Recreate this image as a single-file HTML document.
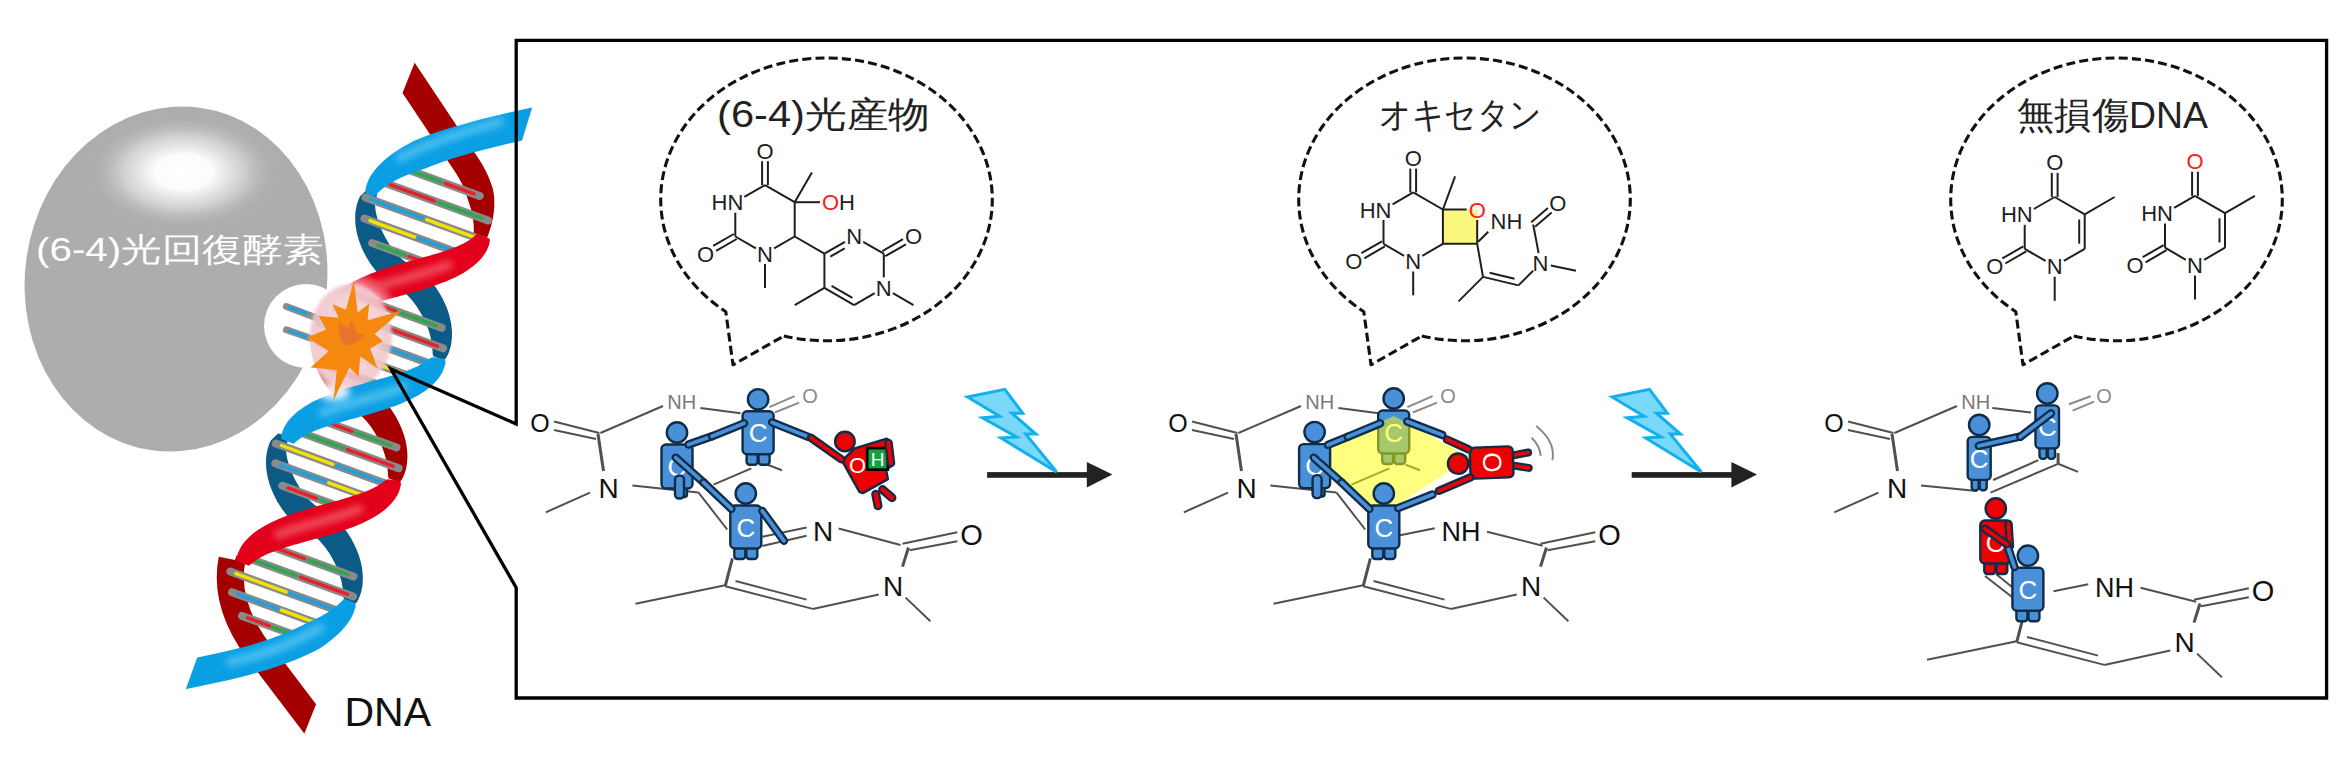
<!DOCTYPE html>
<html><head><meta charset="utf-8"><style>
html,body{margin:0;padding:0;background:#fff;width:2350px;height:776px;overflow:hidden}
svg{display:block}
text{font-family:"Liberation Sans",sans-serif}
</style></head><body>
<svg width="2350" height="776" viewBox="0 0 2350 776">
<defs><radialGradient id="hl" cx="0.5" cy="0.5" r="0.5"><stop offset="0" stop-color="#ffffff"/><stop offset="0.3" stop-color="#fcfcfc"/><stop offset="0.62" stop-color="#dedede" stop-opacity="0.75"/><stop offset="1" stop-color="#adadad" stop-opacity="0"/></radialGradient></defs>
<ellipse cx="176" cy="279" rx="151" ry="173" fill="#adadad" transform="rotate(8 176 279)"/>
<ellipse cx="183" cy="172" rx="96" ry="58" fill="url(#hl)"/>
<circle cx="306" cy="326" r="42" fill="#ffffff"/>
<text x="36" y="261" font-size="33" fill="#ffffff" textLength="287" lengthAdjust="spacingAndGlyphs" font-family="Liberation Sans, sans-serif">(6-4)光回復酵素</text>
<defs><clipPath id="cbt"><path d="M1116.8 -1803.9 L-53.2 2021.1 L-1965.7 1436.1 L-795.7 -2388.9 Z"/></clipPath><clipPath id="crt"><path d="M-343.2 1954.3 L1144.4 -1758.9 L3000.9 -1015.1 L1513.4 2698.0 Z"/></clipPath><clipPath id="cbb"><path d="M873.4 -1224.1 L-479.4 2540.1 L1402.8 3216.5 L2755.5 -547.8 Z"/></clipPath><clipPath id="crb"><path d="M-438.2 2590.0 L1047.4 -1124.0 L-809.6 -1866.7 L-2295.1 1847.2 Z"/></clipPath><radialGradient id="mg" cx="0.5" cy="0.5" r="0.5"><stop offset="0" stop-color="#000"/><stop offset="0.6" stop-color="#000"/><stop offset="1" stop-color="#fff"/></radialGradient><mask id="gm" maskUnits="userSpaceOnUse" x="0" y="0" width="2350" height="776"><rect x="0" y="0" width="2350" height="776" fill="#fff"/><ellipse cx="349" cy="337" rx="58" ry="68" fill="url(#mg)"/></mask><filter id="blur15" x="-50%" y="-50%" width="200%" height="200%"><feGaussianBlur stdDeviation="1.6"/></filter><filter id="blur5" x="-50%" y="-50%" width="200%" height="200%"><feGaussianBlur stdDeviation="5"/></filter><filter id="blur3" x="-50%" y="-50%" width="200%" height="200%"><feGaussianBlur stdDeviation="3.5"/></filter></defs>
<path d="M378.8 57.5 L454.8 171.5 L455.9 173.1 L456.9 174.8 L457.9 176.5 L459.0 178.2 L459.9 179.9 L460.9 181.7 L461.8 183.5 L462.6 185.3 L463.5 187.1 L464.2 188.9 L465.0 190.8 L465.6 192.7 L466.3 194.6 L466.9 196.6 L467.5 198.6 L468.2 200.6 L468.9 202.6 L469.6 204.7 L470.3 206.9 L471.0 209.1 L471.5 211.4 L472.1 213.8 L472.6 216.3 L473.0 218.9 L473.3 221.5 L473.6 224.3 L473.8 227.2 L473.8 230.2 L473.8 233.3 L473.7 236.6 L486.3 239.4 L487.7 236.2 L488.9 232.9 L490.0 229.6 L491.0 226.3 L491.8 223.1 L492.6 219.8 L493.2 216.6 L493.6 213.5 L494.0 210.3 L494.2 207.2 L494.3 204.1 L494.3 201.0 L494.2 198.0 L493.9 195.1 L493.5 192.2 L492.9 189.3 L492.1 186.6 L491.2 183.9 L490.2 181.3 L489.3 178.8 L488.2 176.3 L487.1 173.9 L486.0 171.5 L484.8 169.2 L483.6 166.9 L482.4 164.7 L481.1 162.6 L479.8 160.5 L478.5 158.5 L477.2 156.5 L401.2 42.5 Z" fill="#a50000" clip-path="url(#crt)"/>
<path d="M232 559.4 C225 595, 240 630, 267 662 L330 745" fill="none" stroke="#a50000" stroke-width="27" clip-path="url(#crb)"/>
<path d="M377.2 191.7 L367.3 189.4 L360.2 196.1 L359.1 198.2 L358.2 200.5 L357.4 202.8 L356.7 205.1 L356.2 207.5 L355.7 210.0 L355.4 212.5 L355.2 215.1 L355.2 217.7 L355.2 220.3 L355.4 223.0 L355.6 225.7 L356.0 228.5 L356.5 231.2 L357.1 234.0 L357.9 236.9 L358.7 239.7 L359.7 242.6 L360.8 245.6 L362.0 248.5 L363.4 251.5 L365.0 254.6 L366.7 257.7 L368.7 260.9 L370.8 264.2 L373.3 267.6 L376.1 271.2 L379.6 275.0 L384.0 279.3 L390.7 284.5 L402.3 290.8 L405.6 293.6 L408.3 296.2 L410.7 298.7 L412.8 301.2 L414.6 303.7 L416.4 306.0 L417.9 308.4 L419.4 310.7 L420.7 312.9 L421.9 315.1 L423.1 317.3 L424.1 319.4 L425.1 321.4 L426.0 323.5 L426.8 325.5 L427.6 327.4 L428.3 329.4 L428.9 331.2 L429.5 333.1 L430.0 334.9 L430.5 336.7 L430.9 338.5 L431.2 340.3 L431.5 342.0 L431.8 343.7 L432.0 345.5 L432.2 347.2 L432.3 348.9 L432.5 350.6 L432.6 352.4 L432.7 354.2 L433.4 356.4 L443.8 359.9 L445.7 358.3 L447.0 356.3 L448.1 354.2 L449.0 351.9 L449.8 349.6 L450.5 347.3 L451.0 344.9 L451.4 342.4 L451.7 339.9 L451.9 337.3 L452.0 334.7 L452.0 332.1 L451.8 329.4 L451.5 326.7 L451.2 323.9 L450.7 321.2 L450.0 318.4 L449.3 315.5 L448.5 312.7 L447.5 309.8 L446.4 306.8 L445.1 303.9 L443.7 300.9 L442.2 297.8 L440.4 294.7 L438.5 291.5 L436.3 288.2 L433.9 284.8 L431.0 281.2 L427.6 277.4 L423.2 273.1 L416.5 267.9 L404.9 261.6 L401.6 258.8 L398.8 256.2 L396.5 253.7 L394.4 251.2 L392.5 248.7 L390.8 246.4 L389.2 244.0 L387.8 241.7 L386.5 239.5 L385.2 237.3 L384.1 235.1 L383.0 233.0 L382.1 231.0 L381.2 228.9 L380.3 226.9 L379.6 225.0 L378.9 223.0 L378.3 221.2 L377.7 219.3 L377.2 217.5 L376.7 215.7 L376.3 213.9 L375.9 212.1 L375.6 210.4 L375.4 208.7 L375.2 207.0 L375.0 205.2 L374.8 203.5 L374.7 201.8 L374.6 200.0 L368.6 202.9 L375.9 202.6 Z" fill="#0b5b86"/>
<path d="M288.0 435.8 L278.1 433.5 L271.0 440.2 L269.9 442.4 L269.0 444.6 L268.2 446.9 L267.5 449.3 L267.0 451.7 L266.6 454.2 L266.2 456.7 L266.1 459.2 L266.0 461.8 L266.0 464.5 L266.2 467.2 L266.4 469.9 L266.8 472.6 L267.3 475.4 L267.9 478.2 L268.7 481.0 L269.5 483.9 L270.5 486.8 L271.6 489.7 L272.9 492.7 L274.3 495.7 L275.8 498.8 L277.5 501.9 L279.5 505.1 L281.6 508.4 L284.1 511.8 L287.0 515.4 L290.4 519.2 L294.8 523.4 L301.5 528.6 L313.1 535.0 L316.4 537.7 L319.1 540.3 L321.5 542.9 L323.6 545.4 L325.5 547.8 L327.2 550.2 L328.8 552.5 L330.2 554.8 L331.5 557.0 L332.8 559.2 L333.9 561.4 L335.0 563.5 L335.9 565.6 L336.8 567.6 L337.7 569.6 L338.4 571.6 L339.1 573.5 L339.7 575.4 L340.3 577.2 L340.8 579.1 L341.3 580.9 L341.7 582.6 L342.0 584.4 L342.3 586.1 L342.6 587.9 L342.8 589.6 L343.0 591.3 L343.2 593.0 L343.3 594.8 L343.4 596.5 L343.6 598.3 L344.2 600.5 L354.6 604.1 L356.5 602.5 L357.8 600.4 L358.9 598.3 L359.8 596.1 L360.6 593.8 L361.3 591.4 L361.8 589.0 L362.3 586.5 L362.6 584.0 L362.7 581.4 L362.8 578.8 L362.8 576.2 L362.6 573.5 L362.4 570.8 L362.0 568.1 L361.5 565.3 L360.9 562.5 L360.1 559.7 L359.3 556.8 L358.3 553.9 L357.2 551.0 L355.9 548.0 L354.5 545.0 L353.0 541.9 L351.3 538.8 L349.3 535.6 L347.2 532.3 L344.7 528.9 L341.8 525.3 L338.4 521.5 L334.0 517.3 L327.3 512.1 L315.7 505.7 L312.4 503.0 L309.7 500.4 L307.3 497.8 L305.2 495.3 L303.3 492.9 L301.6 490.5 L300.1 488.2 L298.6 485.9 L297.3 483.6 L296.0 481.4 L294.9 479.3 L293.9 477.2 L292.9 475.1 L292.0 473.1 L291.2 471.1 L290.4 469.1 L289.7 467.2 L289.1 465.3 L288.5 463.4 L288.0 461.6 L287.5 459.8 L287.1 458.0 L286.8 456.3 L286.5 454.5 L286.2 452.8 L286.0 451.1 L285.8 449.4 L285.7 447.7 L285.5 445.9 L285.4 444.2 L279.4 447.0 L286.8 446.8 Z" fill="#0b5b86"/>
<path d="M481.2 241.2 L481.6 241.4 L485.6 231.1 L485.2 231.0 Z" fill="#a50000" mask="url(#gm)"/>
<path d="M332.6 313.8 L322.7 311.4 L315.6 318.2 L314.5 320.3 L313.6 322.5 L312.8 324.8 L312.1 327.2 L311.6 329.6 L311.1 332.1 L310.8 334.6 L310.6 337.2 L310.6 339.8 L310.6 342.4 L310.8 345.1 L311.0 347.8 L311.4 350.5 L311.9 353.3 L312.5 356.1 L313.3 358.9 L314.1 361.8 L315.1 364.7 L316.2 367.6 L317.5 370.6 L318.8 373.6 L320.4 376.7 L322.1 379.8 L324.1 383.0 L326.2 386.3 L328.7 389.7 L331.6 393.3 L335.0 397.1 L339.4 401.3 L346.1 406.6 L357.7 412.9 L361.0 415.6 L363.7 418.2 L366.1 420.8 L368.2 423.3 L370.1 425.7 L371.8 428.1 L373.3 430.5 L374.8 432.7 L376.1 435.0 L377.4 437.2 L378.5 439.3 L379.5 441.4 L380.5 443.5 L381.4 445.5 L382.2 447.5 L383.0 449.5 L383.7 451.4 L384.3 453.3 L384.9 455.2 L385.4 457.0 L385.9 458.8 L386.3 460.6 L386.6 462.3 L386.9 464.1 L387.2 465.8 L387.4 467.5 L387.6 469.2 L387.7 471.0 L387.9 472.7 L388.0 474.5 L388.1 476.3 L388.8 478.5 L399.2 482.0 L401.1 480.4 L402.4 478.4 L403.5 476.2 L404.4 474.0 L405.2 471.7 L405.9 469.3 L406.4 466.9 L406.8 464.5 L407.1 461.9 L407.3 459.4 L407.4 456.8 L407.4 454.1 L407.2 451.5 L406.9 448.8 L406.6 446.0 L406.1 443.2 L405.5 440.4 L404.7 437.6 L403.9 434.8 L402.9 431.9 L401.8 428.9 L400.5 425.9 L399.1 422.9 L397.6 419.9 L395.9 416.7 L393.9 413.5 L391.8 410.2 L389.3 406.8 L386.4 403.3 L383.0 399.4 L378.6 395.2 L371.9 390.0 L360.3 383.6 L357.0 380.9 L354.3 378.3 L351.9 375.7 L349.8 373.2 L347.9 370.8 L346.2 368.4 L344.6 366.1 L343.2 363.8 L341.9 361.6 L340.6 359.4 L339.5 357.2 L338.4 355.1 L337.5 353.0 L336.6 351.0 L335.7 349.0 L335.0 347.0 L334.3 345.1 L333.7 343.2 L333.1 341.4 L332.6 339.5 L332.1 337.7 L331.7 336.0 L331.4 334.2 L331.1 332.5 L330.8 330.7 L330.6 329.0 L330.4 327.3 L330.2 325.6 L330.1 323.8 L330.0 322.1 L324.0 325.0 L331.3 324.7 Z" fill="#a50000" mask="url(#gm)"/>
<path d="M244.7 558.2 L236.7 555.3 L232.9 565.6 L240.9 568.5 Z" fill="#a50000" mask="url(#gm)"/>
<line x1="406.9" y1="169.3" x2="479.7" y2="195.9" stroke="#8a8a8a" stroke-width="8" stroke-linecap="round"/>
<line x1="412.5" y1="171.3" x2="441.4" y2="181.9" stroke="#2aa84a" stroke-width="3.4" stroke-linecap="round"/>
<line x1="445.2" y1="183.3" x2="474.1" y2="193.8" stroke="#e8202a" stroke-width="3.4" stroke-linecap="round"/>
<line x1="384.4" y1="182.7" x2="488.0" y2="220.5" stroke="#8a8a8a" stroke-width="8" stroke-linecap="round"/>
<line x1="390.0" y1="184.7" x2="434.3" y2="200.9" stroke="#e8202a" stroke-width="3.4" stroke-linecap="round"/>
<line x1="438.1" y1="202.3" x2="482.3" y2="218.4" stroke="#2aa84a" stroke-width="3.4" stroke-linecap="round"/>
<line x1="365.5" y1="197.4" x2="483.9" y2="240.6" stroke="#8a8a8a" stroke-width="8" stroke-linecap="round"/>
<line x1="371.1" y1="199.4" x2="422.8" y2="218.3" stroke="#1ea0e0" stroke-width="3.4" stroke-linecap="round"/>
<line x1="426.6" y1="219.7" x2="478.2" y2="238.6" stroke="#f0e400" stroke-width="3.4" stroke-linecap="round"/>
<line x1="364.4" y1="218.6" x2="468.2" y2="256.5" stroke="#8a8a8a" stroke-width="8" stroke-linecap="round"/>
<line x1="370.0" y1="220.6" x2="414.4" y2="236.8" stroke="#f0e400" stroke-width="3.4" stroke-linecap="round"/>
<line x1="418.2" y1="238.2" x2="462.6" y2="254.4" stroke="#1ea0e0" stroke-width="3.4" stroke-linecap="round"/>
<line x1="372.1" y1="243.0" x2="442.0" y2="268.5" stroke="#8a8a8a" stroke-width="8" stroke-linecap="round"/>
<line x1="377.8" y1="245.1" x2="405.2" y2="255.1" stroke="#2aa84a" stroke-width="3.4" stroke-linecap="round"/>
<line x1="409.0" y1="256.5" x2="436.4" y2="266.5" stroke="#e8202a" stroke-width="3.4" stroke-linecap="round"/>
<line x1="353.4" y1="295.5" x2="441.7" y2="327.8" stroke="#8a8a8a" stroke-width="8" stroke-linecap="round"/>
<line x1="359.0" y1="297.6" x2="395.7" y2="311.0" stroke="#e8202a" stroke-width="3.4" stroke-linecap="round"/>
<line x1="399.4" y1="312.4" x2="436.1" y2="325.7" stroke="#2aa84a" stroke-width="3.4" stroke-linecap="round"/>
<line x1="335.6" y1="309.1" x2="443.0" y2="348.3" stroke="#8a8a8a" stroke-width="8" stroke-linecap="round"/>
<line x1="341.3" y1="311.1" x2="387.4" y2="328.0" stroke="#2aa84a" stroke-width="3.4" stroke-linecap="round"/>
<line x1="391.2" y1="329.4" x2="437.3" y2="346.2" stroke="#e8202a" stroke-width="3.4" stroke-linecap="round"/>
<line x1="320.0" y1="323.4" x2="437.2" y2="366.2" stroke="#8a8a8a" stroke-width="8" stroke-linecap="round"/>
<line x1="325.7" y1="325.4" x2="376.7" y2="344.1" stroke="#f0e400" stroke-width="3.4" stroke-linecap="round"/>
<line x1="380.5" y1="345.5" x2="431.5" y2="364.1" stroke="#1ea0e0" stroke-width="3.4" stroke-linecap="round"/>
<line x1="320.2" y1="343.4" x2="420.9" y2="380.2" stroke="#8a8a8a" stroke-width="8" stroke-linecap="round"/>
<line x1="325.8" y1="345.5" x2="368.7" y2="361.1" stroke="#1ea0e0" stroke-width="3.4" stroke-linecap="round"/>
<line x1="372.4" y1="362.5" x2="415.2" y2="378.2" stroke="#f0e400" stroke-width="3.4" stroke-linecap="round"/>
<line x1="328.2" y1="366.4" x2="395.9" y2="391.1" stroke="#8a8a8a" stroke-width="8" stroke-linecap="round"/>
<line x1="333.8" y1="368.4" x2="360.2" y2="378.1" stroke="#e8202a" stroke-width="3.4" stroke-linecap="round"/>
<line x1="363.9" y1="379.4" x2="390.3" y2="389.1" stroke="#2aa84a" stroke-width="3.4" stroke-linecap="round"/>
<line x1="311.2" y1="416.4" x2="396.5" y2="447.5" stroke="#8a8a8a" stroke-width="8" stroke-linecap="round"/>
<line x1="316.9" y1="418.4" x2="352.0" y2="431.3" stroke="#e8202a" stroke-width="3.4" stroke-linecap="round"/>
<line x1="355.8" y1="432.6" x2="390.9" y2="445.5" stroke="#2aa84a" stroke-width="3.4" stroke-linecap="round"/>
<line x1="292.5" y1="429.5" x2="398.6" y2="468.3" stroke="#8a8a8a" stroke-width="8" stroke-linecap="round"/>
<line x1="298.1" y1="431.6" x2="343.6" y2="448.2" stroke="#2aa84a" stroke-width="3.4" stroke-linecap="round"/>
<line x1="347.4" y1="449.6" x2="393.0" y2="466.2" stroke="#e8202a" stroke-width="3.4" stroke-linecap="round"/>
<line x1="275.8" y1="443.5" x2="393.7" y2="486.5" stroke="#8a8a8a" stroke-width="8" stroke-linecap="round"/>
<line x1="281.5" y1="445.5" x2="332.9" y2="464.3" stroke="#f0e400" stroke-width="3.4" stroke-linecap="round"/>
<line x1="336.7" y1="465.7" x2="388.1" y2="484.5" stroke="#1ea0e0" stroke-width="3.4" stroke-linecap="round"/>
<line x1="275.3" y1="463.3" x2="378.5" y2="501.0" stroke="#8a8a8a" stroke-width="8" stroke-linecap="round"/>
<line x1="280.9" y1="465.3" x2="325.0" y2="481.4" stroke="#1ea0e0" stroke-width="3.4" stroke-linecap="round"/>
<line x1="328.7" y1="482.8" x2="372.9" y2="498.9" stroke="#f0e400" stroke-width="3.4" stroke-linecap="round"/>
<line x1="282.3" y1="485.8" x2="354.3" y2="512.1" stroke="#8a8a8a" stroke-width="8" stroke-linecap="round"/>
<line x1="288.0" y1="487.9" x2="316.4" y2="498.3" stroke="#e8202a" stroke-width="3.4" stroke-linecap="round"/>
<line x1="320.2" y1="499.7" x2="348.7" y2="510.1" stroke="#2aa84a" stroke-width="3.4" stroke-linecap="round"/>
<line x1="259.6" y1="542.3" x2="353.4" y2="576.5" stroke="#8a8a8a" stroke-width="8" stroke-linecap="round"/>
<line x1="265.3" y1="544.3" x2="304.6" y2="558.7" stroke="#e8202a" stroke-width="3.4" stroke-linecap="round"/>
<line x1="308.4" y1="560.1" x2="347.8" y2="574.5" stroke="#2aa84a" stroke-width="3.4" stroke-linecap="round"/>
<line x1="244.0" y1="556.6" x2="353.1" y2="596.4" stroke="#8a8a8a" stroke-width="8" stroke-linecap="round"/>
<line x1="249.6" y1="558.6" x2="296.7" y2="575.8" stroke="#2aa84a" stroke-width="3.4" stroke-linecap="round"/>
<line x1="300.4" y1="577.2" x2="347.5" y2="594.4" stroke="#e8202a" stroke-width="3.4" stroke-linecap="round"/>
<line x1="230.3" y1="571.6" x2="345.4" y2="613.6" stroke="#8a8a8a" stroke-width="8" stroke-linecap="round"/>
<line x1="235.9" y1="573.6" x2="286.0" y2="591.9" stroke="#f0e400" stroke-width="3.4" stroke-linecap="round"/>
<line x1="289.7" y1="593.3" x2="339.7" y2="611.6" stroke="#1ea0e0" stroke-width="3.4" stroke-linecap="round"/>
<line x1="232.0" y1="592.2" x2="327.0" y2="626.9" stroke="#8a8a8a" stroke-width="8" stroke-linecap="round"/>
<line x1="237.7" y1="594.3" x2="277.6" y2="608.9" stroke="#1ea0e0" stroke-width="3.4" stroke-linecap="round"/>
<line x1="281.4" y1="610.2" x2="321.4" y2="624.8" stroke="#f0e400" stroke-width="3.4" stroke-linecap="round"/>
<line x1="242.0" y1="615.9" x2="300.7" y2="637.3" stroke="#8a8a8a" stroke-width="8" stroke-linecap="round"/>
<line x1="247.6" y1="617.9" x2="269.5" y2="625.9" stroke="#e8202a" stroke-width="3.4" stroke-linecap="round"/>
<line x1="273.2" y1="627.3" x2="295.0" y2="635.2" stroke="#2aa84a" stroke-width="3.4" stroke-linecap="round"/>
<line x1="286.4" y1="306.5" x2="330" y2="323" stroke="#8c8c8c" stroke-width="7" stroke-linecap="round"/>
<line x1="289.4" y1="307.5" x2="306.4" y2="313.5" stroke="#1ea0e0" stroke-width="3" stroke-linecap="round"/>
<line x1="286.4" y1="329.8" x2="330" y2="345" stroke="#8c8c8c" stroke-width="7" stroke-linecap="round"/>
<line x1="289.4" y1="330.8" x2="306.4" y2="336.8" stroke="#1ea0e0" stroke-width="3" stroke-linecap="round"/>
<path d="M477.6 233.8 L475.9 235.0 L474.7 236.1 L473.5 237.1 L472.2 238.1 L470.9 239.0 L469.6 239.9 L468.2 240.8 L466.7 241.7 L465.2 242.6 L463.5 243.4 L461.8 244.3 L459.9 245.2 L458.0 246.0 L455.9 246.9 L453.7 247.8 L451.5 248.6 L449.2 249.5 L446.7 250.3 L444.2 251.2 L441.6 252.0 L438.9 252.9 L436.1 253.7 L433.2 254.5 L430.3 255.4 L427.3 256.2 L424.3 257.1 L421.2 257.9 L418.1 258.8 L414.9 259.7 L411.7 260.6 L408.4 261.5 L405.2 262.4 L401.9 263.3 L398.6 264.3 L395.4 265.2 L392.1 266.2 L388.8 267.3 L385.5 268.3 L382.3 269.4 L379.1 270.5 L375.9 271.7 L372.8 272.9 L369.7 274.1 L366.6 275.4 L363.6 276.7 L360.7 278.1 L357.8 279.6 L355.0 281.1 L352.3 282.6 L349.6 284.2 L347.1 285.9 L344.6 287.7 L342.2 289.5 L340.0 291.4 L337.8 293.3 L335.8 295.4 L334.0 297.5 L332.2 299.7 L330.7 302.0 L329.3 304.3 L328.1 306.7 L327.1 309.2 L326.3 311.7 L325.8 314.3 L326.0 316.8 L338.0 321.7 L339.7 320.4 L340.9 319.4 L342.2 318.4 L343.4 317.4 L344.7 316.5 L346.0 315.6 L347.4 314.7 L348.9 313.8 L350.5 312.9 L352.1 312.0 L353.9 311.2 L355.7 310.3 L357.7 309.4 L359.7 308.6 L361.9 307.7 L364.1 306.9 L366.5 306.0 L368.9 305.2 L371.4 304.3 L374.1 303.5 L376.8 302.6 L379.5 301.8 L382.4 301.0 L385.3 300.1 L388.3 299.3 L391.3 298.4 L394.4 297.6 L397.6 296.7 L400.7 295.8 L403.9 294.9 L407.2 294.0 L410.4 293.1 L413.7 292.2 L417.0 291.2 L420.3 290.3 L423.5 289.3 L426.8 288.2 L430.1 287.2 L433.3 286.1 L436.5 285.0 L439.7 283.8 L442.9 282.6 L446.0 281.4 L449.0 280.1 L452.0 278.7 L455.0 277.4 L457.8 275.9 L460.6 274.4 L463.4 272.9 L466.0 271.3 L468.6 269.6 L471.0 267.8 L473.4 266.0 L475.6 264.1 L477.8 262.2 L479.8 260.1 L481.7 258.0 L483.4 255.8 L484.9 253.5 L486.3 251.2 L487.5 248.8 L488.6 246.3 L489.3 243.8 L489.8 241.2 L489.7 238.7 Z" fill="#e3001b" mask="url(#gm)"/>
<path d="M448.2 264.8 L445.4 265.9 L442.5 267.0 L439.5 268.1 L436.5 269.1 L433.5 270.1 L430.4 271.1 L427.2 272.1 L424.0 273.0 L420.8 274.0 L417.6 274.9 L414.3 275.9 L411.1 276.8 L407.8 277.7 L404.5 278.7 L401.3 279.6 L398.0 280.6 L394.8 281.5 L391.6 282.5 L388.4 283.4 L385.2 284.4 L382.1 285.4 L379.1 286.4 L376.1 287.4 L373.1 288.5 L370.2 289.6 L367.4 290.7" fill="none" stroke="#f2606c" stroke-width="9" stroke-linecap="round" filter="url(#blur3)" opacity="0.8" mask="url(#gm)"/>
<path d="M387.5 479.3 L386.4 480.1 L385.5 480.2 L384.3 481.2 L383.0 482.2 L381.8 483.1 L380.4 484.1 L379.0 484.9 L377.5 485.8 L376.0 486.7 L374.3 487.6 L372.6 488.5 L370.7 489.3 L368.8 490.2 L366.7 491.0 L364.6 491.9 L362.3 492.8 L360.0 493.6 L357.5 494.5 L355.0 495.3 L352.4 496.1 L349.7 497.0 L346.9 497.8 L344.0 498.7 L341.1 499.5 L338.1 500.4 L335.1 501.2 L332.0 502.1 L328.9 502.9 L325.7 503.8 L322.5 504.7 L319.3 505.6 L316.0 506.5 L312.7 507.4 L309.5 508.4 L306.2 509.4 L302.9 510.4 L299.6 511.4 L296.4 512.5 L293.1 513.5 L289.9 514.7 L286.7 515.8 L283.6 517.0 L280.5 518.3 L277.4 519.6 L274.4 520.9 L271.5 522.3 L268.6 523.7 L265.8 525.2 L263.1 526.7 L260.4 528.4 L257.9 530.0 L255.4 531.8 L253.1 533.6 L250.8 535.5 L248.7 537.5 L246.7 539.5 L244.8 541.6 L243.1 543.8 L241.5 546.1 L240.1 548.5 L238.9 550.9 L237.9 553.3 L237.1 555.9 L236.6 558.4 L236.8 560.9 L248.8 565.8 L250.5 564.6 L251.7 563.5 L253.0 562.5 L254.2 561.6 L255.5 560.6 L256.8 559.7 L258.2 558.8 L259.7 557.9 L261.3 557.1 L262.9 556.2 L264.7 555.3 L266.5 554.5 L268.5 553.6 L270.5 552.7 L272.7 551.9 L274.9 551.0 L277.3 550.2 L279.7 549.3 L282.3 548.5 L284.9 547.6 L287.6 546.8 L290.4 545.9 L293.2 545.1 L296.1 544.3 L299.1 543.4 L302.1 542.6 L305.2 541.7 L308.4 540.8 L311.5 540.0 L314.8 539.1 L318.0 538.2 L321.2 537.3 L324.5 536.3 L327.8 535.4 L331.1 534.4 L334.4 533.4 L337.6 532.4 L340.9 531.3 L344.1 530.2 L347.4 529.1 L350.5 527.9 L353.7 526.7 L356.8 525.5 L359.8 524.2 L362.8 522.9 L365.8 521.5 L368.6 520.1 L371.5 518.6 L374.2 517.0 L376.8 515.4 L379.4 513.7 L381.8 512.0 L384.2 510.2 L386.5 508.3 L388.6 506.3 L390.6 504.3 L392.5 502.1 L394.2 499.9 L395.8 497.7 L397.2 495.3 L398.4 492.9 L399.4 490.4 L400.1 487.9 L401.0 484.4 L400.4 481.1 Z" fill="#e3001b" mask="url(#gm)"/>
<path d="M359.0 509.0 L356.2 510.1 L353.3 511.1 L350.4 512.2 L347.4 513.2 L344.3 514.2 L341.2 515.2 L338.0 516.2 L334.9 517.2 L331.7 518.1 L328.4 519.1 L325.2 520.0 L321.9 521.0 L318.6 521.9 L315.4 522.8 L312.1 523.8 L308.8 524.7 L305.6 525.6 L302.4 526.6 L299.2 527.6 L296.1 528.5 L293.0 529.5 L289.9 530.5 L286.9 531.6 L283.9 532.6 L281.1 533.7 L278.3 534.8" fill="none" stroke="#f2606c" stroke-width="9" stroke-linecap="round" filter="url(#blur3)" opacity="0.8" mask="url(#gm)"/>
<ellipse cx="351" cy="336" rx="41" ry="52" fill="#f1c6cb" opacity="0.88" filter="url(#blur15)"/><ellipse cx="353" cy="334" rx="28" ry="38" fill="#f7dde0" opacity="0.6" filter="url(#blur5)"/>
<path d="M370.5 194.9 L370.5 194.9 L382.7 199.4 L382.7 199.4 Z" fill="#0a9fe3"/>
<path d="M376.6 197.2 L376.6 197.2" fill="none" stroke="#5cc8f4" stroke-width="9" stroke-linecap="round" filter="url(#blur3)" opacity="0.8"/>
<path d="M432.1 357.3 L431.0 358.0 L430.1 358.2 L428.9 359.2 L427.6 360.1 L426.3 361.1 L425.0 362.0 L423.6 362.9 L422.1 363.8 L420.6 364.6 L418.9 365.5 L417.2 366.4 L415.3 367.2 L413.4 368.1 L411.3 369.0 L409.2 369.8 L406.9 370.7 L404.6 371.5 L402.1 372.4 L399.6 373.2 L397.0 374.1 L394.3 374.9 L391.5 375.8 L388.6 376.6 L385.7 377.4 L382.7 378.3 L379.7 379.1 L376.6 380.0 L373.5 380.9 L370.3 381.7 L367.1 382.6 L363.9 383.5 L360.6 384.4 L357.3 385.4 L354.0 386.3 L350.8 387.3 L347.5 388.3 L344.2 389.3 L340.9 390.4 L337.7 391.5 L334.5 392.6 L331.3 393.8 L328.2 395.0 L325.1 396.2 L322.0 397.5 L319.0 398.8 L316.1 400.2 L313.2 401.6 L310.4 403.1 L307.7 404.7 L305.0 406.3 L302.5 408.0 L300.0 409.7 L297.6 411.5 L295.4 413.4 L293.3 415.4 L291.2 417.4 L289.4 419.6 L287.6 421.8 L286.1 424.0 L284.7 426.4 L283.5 428.8 L282.5 431.3 L281.7 433.8 L281.2 436.4 L281.4 438.9 L293.4 443.7 L295.1 442.5 L296.3 441.5 L297.6 440.5 L298.8 439.5 L300.1 438.6 L301.4 437.6 L302.8 436.8 L304.3 435.9 L305.9 435.0 L307.5 434.1 L309.3 433.2 L311.1 432.4 L313.1 431.5 L315.1 430.7 L317.3 429.8 L319.5 428.9 L321.9 428.1 L324.3 427.2 L326.8 426.4 L329.5 425.6 L332.2 424.7 L334.9 423.9 L337.8 423.0 L340.7 422.2 L343.7 421.3 L346.7 420.5 L349.8 419.6 L353.0 418.8 L356.1 417.9 L359.3 417.0 L362.6 416.1 L365.8 415.2 L369.1 414.3 L372.4 413.3 L375.7 412.3 L379.0 411.3 L382.2 410.3 L385.5 409.2 L388.7 408.2 L391.9 407.0 L395.1 405.9 L398.3 404.7 L401.4 403.4 L404.4 402.1 L407.4 400.8 L410.4 399.4 L413.2 398.0 L416.0 396.5 L418.8 394.9 L421.4 393.3 L424.0 391.7 L426.4 389.9 L428.8 388.1 L431.0 386.2 L433.2 384.2 L435.2 382.2 L437.1 380.1 L438.8 377.9 L440.4 375.6 L441.8 373.2 L443.0 370.8 L444.0 368.3 L444.7 365.8 L445.6 362.4 L445.0 359.0 Z" fill="#0a9fe3"/>
<path d="M403.6 386.9 L400.8 388.0 L397.9 389.1 L395.0 390.1 L391.9 391.2 L388.9 392.2 L385.8 393.2 L382.6 394.1 L379.5 395.1 L376.2 396.1 L373.0 397.0 L369.8 397.9 L366.5 398.9 L363.2 399.8 L359.9 400.7 L356.7 401.7 L353.4 402.6 L350.2 403.6 L347.0 404.5 L343.8 405.5 L340.7 406.5 L337.5 407.5 L334.5 408.5 L331.5 409.5 L328.5 410.6 L325.7 411.6 L322.8 412.7" fill="none" stroke="#5cc8f4" stroke-width="9" stroke-linecap="round" filter="url(#blur3)" opacity="0.8"/>
<path d="M347.0 608.4 L347.5 608.5 L352.2 596.4 L351.7 596.2 Z" fill="#0a9fe3"/>
<path d="M349.9 602.5 L349.9 602.5" fill="none" stroke="#5cc8f4" stroke-width="9" stroke-linecap="round" filter="url(#blur3)" opacity="0.8"/>
<path d="M556.9 102.3 L523.9 109.3 L516.5 111.0 L509.2 112.6 L501.9 114.3 L494.7 116.1 L487.5 117.8 L480.3 119.6 L473.1 121.5 L466.1 123.4 L459.1 125.4 L452.2 127.4 L445.4 129.4 L438.8 131.6 L432.3 133.8 L426.0 136.1 L419.8 138.4 L413.8 140.9 L408.2 143.9 L402.8 147.0 L397.7 150.2 L392.8 153.5 L388.2 157.0 L384.0 160.5 L380.0 164.2 L376.4 168.0 L373.3 172.0 L370.5 176.1 L368.3 180.3 L366.6 184.7 L365.5 189.2 L365.8 193.5 L374.2 196.5 L376.9 193.9 L379.1 191.7 L381.5 189.5 L384.1 187.5 L386.9 185.4 L390.1 183.4 L393.5 181.4 L397.2 179.5 L401.2 177.6 L405.5 175.7 L410.1 173.8 L414.9 172.0 L420.0 170.2 L425.3 168.5 L430.7 166.3 L436.3 164.2 L442.2 162.1 L448.2 160.1 L454.4 158.1 L460.8 156.1 L467.4 154.2 L474.0 152.3 L480.8 150.5 L487.7 148.7 L494.7 146.9 L501.7 145.2 L508.8 143.5 L515.9 141.9 L523.1 140.2 L530.1 138.7 L563.1 131.7 Z" fill="#0a9fe3" clip-path="url(#cbt)"/>
<path d="M344.5 598.7 L342.3 600.6 L340.5 602.4 L338.6 604.1 L336.5 605.9 L334.4 607.6 L332.0 609.4 L329.5 611.1 L326.8 612.9 L323.9 614.6 L320.8 616.4 L317.5 618.1 L314.0 619.9 L310.3 621.6 L306.4 623.3 L302.5 625.3 L298.4 627.3 L294.1 629.3 L289.7 631.3 L285.0 633.3 L280.1 635.2 L275.1 637.1 L269.9 638.9 L264.6 640.7 L259.0 642.5 L253.4 644.2 L247.5 645.9 L241.6 647.5 L235.5 649.1 L229.2 650.6 L223.0 652.1 L157.0 666.1 L163.0 693.9 L229.0 679.9 L235.9 678.3 L242.4 676.7 L248.9 675.0 L255.2 673.3 L261.4 671.5 L267.5 669.7 L273.4 667.8 L279.2 665.8 L284.9 663.8 L290.4 661.8 L295.7 659.7 L300.9 657.5 L305.9 655.3 L310.8 653.0 L315.5 650.7 L320.0 648.3 L324.2 645.4 L328.1 642.6 L331.9 639.6 L335.4 636.6 L338.7 633.6 L341.8 630.5 L344.6 627.3 L347.2 624.0 L349.5 620.7 L351.5 617.3 L353.2 613.8 L354.5 610.3 L355.5 606.8 L355.5 603.3 Z" fill="#0a9fe3" clip-path="url(#cbb)"/>
<path d="M500 122 C470 130, 430 142, 400 158" fill="none" stroke="#5cc8f4" stroke-width="9" stroke-linecap="round" filter="url(#blur3)" opacity="0.8"/>
<path d="M320 628 C290 645, 260 656, 230 662" fill="none" stroke="#5cc8f4" stroke-width="9" stroke-linecap="round" filter="url(#blur3)" opacity="0.8"/>
<ellipse cx="334" cy="392" rx="16" ry="9" fill="#ffffff" opacity="0.85" filter="url(#blur3)"/>
<path d="M354 279.9 L357.6 312.4 L369.3 303.4 L367.5 320.5 L401.8 310.6 L374.7 334 L382.9 341.2 L370.2 348.4 L377.5 368.3 L360.3 356.5 L358.5 376.4 L349.5 367.4 L333.3 400.7 L336.9 370 L310.7 367.4 L328.8 351.1 L307.1 337.6 L326.1 329.5 L318.8 316 L338.7 317.8 L332.4 304.3 L345.9 309.7 Z" fill="#f5890f"/>
<path d="M338 322 L348 328 L352 320 L356 333 L364 335 L356 343 L345 346 L340 338 Z" fill="#e8742c"/>
<path d="M391 369 L516.2 424 L516.2 40.3 L2326.6 40.3 L2326.6 698 L516.2 698 L516.2 587.7 Z" fill="none" stroke="#000" stroke-width="3.3" stroke-linejoin="miter"/>
<path d="M783.8 336.0 A165.8 141.4 0 1 0 725.8 311.7 L733.0 364.8 Z" fill="none" stroke="#111" stroke-width="3.1" stroke-dasharray="9 4.2" stroke-linejoin="round"/>
<path d="M1421.8 336.0 A165.8 141.4 0 1 0 1363.8 311.7 L1371.0 364.8 Z" fill="none" stroke="#111" stroke-width="3.1" stroke-dasharray="9 4.2" stroke-linejoin="round"/>
<path d="M2073.8 336.0 A165.8 141.4 0 1 0 2015.8 311.7 L2023.0 364.8 Z" fill="none" stroke="#111" stroke-width="3.1" stroke-dasharray="9 4.2" stroke-linejoin="round"/>
<rect x="987.1" y="472.1" width="101" height="5.7" fill="#222"/>
<path d="M1086.8 462 L1112.4 474.6 L1086.8 487.5 Z" fill="#222"/>
<path d="M967.5 397.0 L1004.9 389.3 L1022.7 413.2 L1011.9 413.2 L1035.8 434.1 L1025.8 434.1 L1056.7 472.0 L1001.0 438.0 L1016.5 436.9 L982.5 417.9 L999.5 416.3 Z" fill="#7ad8fa" stroke="#12b0ec" stroke-width="3" stroke-linejoin="miter"/>
<rect x="1631.7" y="472.1" width="101" height="5.7" fill="#222"/>
<path d="M1731.4 462 L1757.0 474.6 L1731.4 487.5 Z" fill="#222"/>
<path d="M1612.1 397.0 L1649.5 389.3 L1667.3 413.2 L1656.5 413.2 L1680.4 434.1 L1670.4 434.1 L1701.3 472.0 L1645.6 438.0 L1661.1 436.9 L1627.1 417.9 L1644.1 416.3 Z" fill="#7ad8fa" stroke="#12b0ec" stroke-width="3" stroke-linejoin="miter"/>
<text x="344.5" y="726.4" font-size="41" fill="#111" font-family="Liberation Sans, sans-serif">DNA</text>
<text x="717" y="126.5" font-size="36" fill="#222" textLength="213" lengthAdjust="spacingAndGlyphs" font-family="Liberation Sans, sans-serif">(6-4)光産物</text>
<text x="1379" y="127" font-size="36" fill="#222" textLength="163" lengthAdjust="spacingAndGlyphs" font-family="Liberation Sans, sans-serif">オキセタン</text>
<text x="2017" y="128" font-size="37" fill="#222" textLength="191" lengthAdjust="spacingAndGlyphs" font-family="Liberation Sans, sans-serif">無損傷DNA</text>
<line x1="554.0" y1="421.5" x2="599.4" y2="433.0" stroke="#505050" stroke-width="2"/>
<line x1="554.0" y1="430.0" x2="596.0" y2="439.0" stroke="#505050" stroke-width="2"/>
<line x1="600.4" y1="433.0" x2="663.0" y2="406.0" stroke="#505050" stroke-width="2"/>
<line x1="598.0" y1="434.0" x2="603.5" y2="471.0" stroke="#505050" stroke-width="3"/>
<line x1="590.0" y1="492.7" x2="545.8" y2="512.3" stroke="#505050" stroke-width="2"/>
<text x="540.0" y="431.6" font-size="25" fill="#111" text-anchor="middle" font-family="Liberation Sans, sans-serif">O</text>
<text x="681.7" y="409.0" font-size="20" fill="#7a7a7a" text-anchor="middle" font-family="Liberation Sans, sans-serif">NH</text>
<text x="608.7" y="498.4" font-size="28" fill="#111" text-anchor="middle" font-family="Liberation Sans, sans-serif">N</text>
<line x1="700.4" y1="408.0" x2="740.6" y2="413.3" stroke="#505050" stroke-width="2"/>
<line x1="632.4" y1="485.5" x2="698.4" y2="492.4" stroke="#505050" stroke-width="2"/>
<line x1="769.4" y1="407.1" x2="794.6" y2="396.2" stroke="#8a8a8a" stroke-width="2"/>
<line x1="774.8" y1="412.5" x2="799.1" y2="402.6" stroke="#8a8a8a" stroke-width="2"/>
<text x="810.0" y="402.5" font-size="20" fill="#8a8a8a" text-anchor="middle" font-family="Liberation Sans, sans-serif">O</text>
<line x1="713.5" y1="484.6" x2="751.3" y2="468.4" stroke="#505050" stroke-width="2"/>
<line x1="767.6" y1="464.8" x2="782.0" y2="470.2" stroke="#505050" stroke-width="2"/>
<line x1="698.4" y1="492.4" x2="727.2" y2="529.5" stroke="#505050" stroke-width="2"/>
<line x1="725.2" y1="585.2" x2="635.5" y2="603.7" stroke="#505050" stroke-width="2"/>
<line x1="725.2" y1="586.2" x2="732.4" y2="558.4" stroke="#505050" stroke-width="3"/>
<line x1="725.2" y1="586.2" x2="812.8" y2="608.9" stroke="#505050" stroke-width="2"/>
<line x1="735.5" y1="581.0" x2="806.6" y2="599.6" stroke="#505050" stroke-width="2"/>
<line x1="812.8" y1="608.9" x2="878.8" y2="594.5" stroke="#505050" stroke-width="2"/>
<text x="893.2" y="596.3" font-size="28" fill="#111" text-anchor="middle" font-family="Liberation Sans, sans-serif">N</text>
<line x1="905.6" y1="597.6" x2="930.4" y2="621.3" stroke="#505050" stroke-width="2"/>
<line x1="902.5" y1="566.6" x2="908.5" y2="547.5" stroke="#505050" stroke-width="3"/>
<line x1="902.5" y1="543.8" x2="957.3" y2="532.2" stroke="#505050" stroke-width="2"/>
<line x1="909.6" y1="550.3" x2="957.3" y2="541.3" stroke="#505050" stroke-width="2"/>
<text x="971.6" y="545.0" font-size="29" fill="#111" text-anchor="middle" font-family="Liberation Sans, sans-serif">O</text>
<line x1="900.5" y1="545.0" x2="838.6" y2="528.5" stroke="#505050" stroke-width="2"/>
<text x="823.1" y="540.6" font-size="28" fill="#111" text-anchor="middle" font-family="Liberation Sans, sans-serif">N</text>
<line x1="806.6" y1="527.4" x2="762.3" y2="536.7" stroke="#505050" stroke-width="2"/>
<line x1="806.6" y1="535.7" x2="762.3" y2="546.0" stroke="#505050" stroke-width="2"/>
<g transform="translate(677.0 466.0) rotate(0)"><rect x="4" y="18" width="6" height="13" rx="2.5" fill="#4a90d9" stroke="#0f2d48" stroke-width="2.4"/><rect x="-15.5" y="-21.5" width="31" height="44" rx="4.5" fill="#4a90d9" stroke="#0f2d48" stroke-width="2.4"/><circle cx="0" cy="-33.5" r="10.2" fill="#4a90d9" stroke="#0f2d48" stroke-width="2.4"/><text x="0" y="9.5" font-size="26" fill="#ffffff" text-anchor="middle" font-family="Liberation Sans, sans-serif">C</text><rect x="-2" y="9.5" width="9" height="23" rx="4" fill="#4a90d9" stroke="#0f2d48" stroke-width="2.4"/></g>
<g transform="translate(758.1 432.8) rotate(0)"><rect x="-11.5" y="16" width="11.0" height="16" rx="3" fill="#4a90d9" stroke="#0f2d48" stroke-width="2.4"/><rect x="0.5" y="16" width="11.0" height="16" rx="3" fill="#4a90d9" stroke="#0f2d48" stroke-width="2.4"/><rect x="-15.5" y="-21.5" width="31" height="43" rx="4.5" fill="#4a90d9" stroke="#0f2d48" stroke-width="2.4"/><circle cx="0" cy="-33.5" r="10.2" fill="#4a90d9" stroke="#0f2d48" stroke-width="2.4"/><text x="0" y="9.5" font-size="26" fill="#ffffff" text-anchor="middle" font-family="Liberation Sans, sans-serif">C</text></g>
<g transform="translate(745.8 527.0) rotate(0)"><rect x="-11.5" y="16" width="11.0" height="16" rx="3" fill="#4a90d9" stroke="#0f2d48" stroke-width="2.4"/><rect x="0.5" y="16" width="11.0" height="16" rx="3" fill="#4a90d9" stroke="#0f2d48" stroke-width="2.4"/><rect x="-15.5" y="-21.5" width="31" height="43" rx="4.5" fill="#4a90d9" stroke="#0f2d48" stroke-width="2.4"/><circle cx="0" cy="-33.5" r="10.2" fill="#4a90d9" stroke="#0f2d48" stroke-width="2.4"/><text x="0" y="9.5" font-size="26" fill="#ffffff" text-anchor="middle" font-family="Liberation Sans, sans-serif">C</text></g>
<line x1="875.7" y1="494.2" x2="878.0" y2="505.8" stroke="#0f2d48" stroke-width="9" stroke-linecap="round"/><line x1="875.7" y1="494.2" x2="878.0" y2="505.8" stroke="#ee0000" stroke-width="4.5" stroke-linecap="round"/>
<line x1="882.6" y1="489.6" x2="891.9" y2="497.7" stroke="#0f2d48" stroke-width="9" stroke-linecap="round"/><line x1="882.6" y1="489.6" x2="891.9" y2="497.7" stroke="#ee0000" stroke-width="4.5" stroke-linecap="round"/>
<path d="M842 460.6 L854.8 448.4 L886.7 438.6 L891.3 442 L893.1 464.7 L886.1 469.9 L887.9 479.2 L862.9 493.1 L859.4 491.9 Z" fill="#ee0000" stroke="#0f2d48" stroke-width="2.4" stroke-linejoin="round"/>
<circle cx="844.9" cy="441.5" r="9.8" fill="#ee0000" stroke="#0f2d48" stroke-width="2.4"/>
<text x="857.5" y="472.5" font-size="22" fill="#fff" text-anchor="middle" font-family="Liberation Sans, sans-serif">O</text>
<rect x="867.2" y="448.1" width="20.6" height="21.6" fill="#16a03c" stroke="#000" stroke-width="2.6"/>
<text x="877.5" y="466" font-size="19" fill="#fff" text-anchor="middle" font-family="Liberation Sans, sans-serif">H</text>
<line x1="888.5" y1="443.0" x2="891.0" y2="463.0" stroke="#0f2d48" stroke-width="8.5" stroke-linecap="round"/><line x1="888.5" y1="443.0" x2="891.0" y2="463.0" stroke="#ee0000" stroke-width="4" stroke-linecap="round"/>
<line x1="688.5" y1="444.5" x2="712.0" y2="436.3" stroke="#0f2d48" stroke-width="8.4" stroke-linecap="round"/><line x1="688.5" y1="444.5" x2="712.0" y2="436.3" stroke="#4a90d9" stroke-width="3.8" stroke-linecap="round"/>
<line x1="712.0" y1="436.3" x2="744.1" y2="423.3" stroke="#0f2d48" stroke-width="8.4" stroke-linecap="round"/><line x1="712.0" y1="436.3" x2="744.1" y2="423.3" stroke="#4a90d9" stroke-width="3.8" stroke-linecap="round"/>
<line x1="772.1" y1="422.4" x2="808.2" y2="436.8" stroke="#0f2d48" stroke-width="8.4" stroke-linecap="round"/><line x1="772.1" y1="422.4" x2="808.2" y2="436.8" stroke="#4a90d9" stroke-width="3.8" stroke-linecap="round"/>
<line x1="810.9" y1="437.7" x2="841.5" y2="459.4" stroke="#0f2d48" stroke-width="8.4" stroke-linecap="round"/><line x1="810.9" y1="437.7" x2="841.5" y2="459.4" stroke="#ee0000" stroke-width="3.8" stroke-linecap="round"/>
<line x1="675.7" y1="457.6" x2="703.5" y2="482.4" stroke="#0f2d48" stroke-width="8.4" stroke-linecap="round"/><line x1="675.7" y1="457.6" x2="703.5" y2="482.4" stroke="#4a90d9" stroke-width="3.8" stroke-linecap="round"/>
<line x1="703.5" y1="482.4" x2="731.4" y2="508.9" stroke="#0f2d48" stroke-width="8.4" stroke-linecap="round"/><line x1="703.5" y1="482.4" x2="731.4" y2="508.9" stroke="#4a90d9" stroke-width="3.8" stroke-linecap="round"/>
<line x1="762.3" y1="510.9" x2="784.0" y2="540.8" stroke="#0f2d48" stroke-width="8.4" stroke-linecap="round"/><line x1="762.3" y1="510.9" x2="784.0" y2="540.8" stroke="#4a90d9" stroke-width="3.8" stroke-linecap="round"/>
<line x1="1192.0" y1="421.5" x2="1237.4" y2="433.0" stroke="#505050" stroke-width="2"/>
<line x1="1192.0" y1="430.0" x2="1234.0" y2="439.0" stroke="#505050" stroke-width="2"/>
<line x1="1238.4" y1="433.0" x2="1301.0" y2="406.0" stroke="#505050" stroke-width="2"/>
<line x1="1236.0" y1="434.0" x2="1241.5" y2="471.0" stroke="#505050" stroke-width="3"/>
<line x1="1228.0" y1="492.7" x2="1183.8" y2="512.3" stroke="#505050" stroke-width="2"/>
<text x="1178.0" y="431.6" font-size="25" fill="#111" text-anchor="middle" font-family="Liberation Sans, sans-serif">O</text>
<text x="1319.7" y="409.0" font-size="20" fill="#7a7a7a" text-anchor="middle" font-family="Liberation Sans, sans-serif">NH</text>
<text x="1246.7" y="498.4" font-size="28" fill="#111" text-anchor="middle" font-family="Liberation Sans, sans-serif">N</text>
<line x1="1338.4" y1="408.0" x2="1378.6" y2="413.3" stroke="#505050" stroke-width="2"/>
<line x1="1270.4" y1="485.5" x2="1336.4" y2="492.4" stroke="#505050" stroke-width="2"/>
<line x1="1407.4" y1="407.1" x2="1432.6" y2="396.2" stroke="#8a8a8a" stroke-width="2"/>
<line x1="1412.8" y1="412.5" x2="1437.1" y2="402.6" stroke="#8a8a8a" stroke-width="2"/>
<text x="1448.0" y="402.5" font-size="20" fill="#8a8a8a" text-anchor="middle" font-family="Liberation Sans, sans-serif">O</text>
<line x1="1336.4" y1="492.4" x2="1365.2" y2="529.5" stroke="#505050" stroke-width="2"/>
<line x1="1363.2" y1="585.2" x2="1273.5" y2="603.7" stroke="#505050" stroke-width="2"/>
<line x1="1363.2" y1="586.2" x2="1370.4" y2="558.4" stroke="#505050" stroke-width="3"/>
<line x1="1363.2" y1="586.2" x2="1450.8" y2="608.9" stroke="#505050" stroke-width="2"/>
<line x1="1373.5" y1="581.0" x2="1444.6" y2="599.6" stroke="#505050" stroke-width="2"/>
<line x1="1450.8" y1="608.9" x2="1516.8" y2="594.5" stroke="#505050" stroke-width="2"/>
<text x="1531.2" y="596.3" font-size="28" fill="#111" text-anchor="middle" font-family="Liberation Sans, sans-serif">N</text>
<line x1="1543.6" y1="597.6" x2="1568.4" y2="621.3" stroke="#505050" stroke-width="2"/>
<line x1="1540.5" y1="566.6" x2="1546.5" y2="547.5" stroke="#505050" stroke-width="3"/>
<line x1="1540.5" y1="543.8" x2="1595.3" y2="532.2" stroke="#505050" stroke-width="2"/>
<line x1="1547.6" y1="550.3" x2="1595.3" y2="541.3" stroke="#505050" stroke-width="2"/>
<text x="1609.6" y="545.0" font-size="29" fill="#111" text-anchor="middle" font-family="Liberation Sans, sans-serif">O</text>
<line x1="1400.0" y1="535.2" x2="1434.8" y2="528.3" stroke="#505050" stroke-width="2"/>
<line x1="1487.0" y1="531.7" x2="1542.6" y2="545.7" stroke="#505050" stroke-width="2"/>
<text x="1460.9" y="541.4" font-size="27" fill="#111" text-anchor="middle" font-family="Liberation Sans, sans-serif">NH</text>
<g transform="translate(1393.7 432.0) rotate(0)"><rect x="-11.5" y="16" width="11.0" height="16" rx="3" fill="#4a90d9" stroke="#0f2d48" stroke-width="2.4"/><rect x="0.5" y="16" width="11.0" height="16" rx="3" fill="#4a90d9" stroke="#0f2d48" stroke-width="2.4"/><rect x="-15.5" y="-21.5" width="31" height="43" rx="4.5" fill="#4a90d9" stroke="#0f2d48" stroke-width="2.4"/><circle cx="0" cy="-33.5" r="10.2" fill="#4a90d9" stroke="#0f2d48" stroke-width="2.4"/><text x="0" y="9.5" font-size="26" fill="#ffffff" text-anchor="middle" font-family="Liberation Sans, sans-serif">C</text></g>
<line x1="1351.5" y1="484.6" x2="1389.3" y2="468.4" stroke="#505050" stroke-width="2"/>
<line x1="1405.6" y1="464.8" x2="1420.0" y2="470.2" stroke="#505050" stroke-width="2"/>
<path d="M1326.1 447.6 L1393.7 416.1 L1470.4 457.6 L1398.2 504.5 L1374.8 509.9 L1326.1 464.8 Z" fill="#ffff00" opacity="0.5"/>
<g transform="translate(1314.6 465.6) rotate(0)"><rect x="4" y="18" width="6" height="13" rx="2.5" fill="#4a90d9" stroke="#0f2d48" stroke-width="2.4"/><rect x="-15.5" y="-21.5" width="31" height="44" rx="4.5" fill="#4a90d9" stroke="#0f2d48" stroke-width="2.4"/><circle cx="0" cy="-33.5" r="10.2" fill="#4a90d9" stroke="#0f2d48" stroke-width="2.4"/><text x="0" y="9.5" font-size="26" fill="#ffffff" text-anchor="middle" font-family="Liberation Sans, sans-serif">C</text><rect x="-2" y="9.5" width="9" height="23" rx="4" fill="#4a90d9" stroke="#0f2d48" stroke-width="2.4"/></g>
<g transform="translate(1383.8 527.0) rotate(0)"><rect x="-11.5" y="16" width="11.0" height="16" rx="3" fill="#4a90d9" stroke="#0f2d48" stroke-width="2.4"/><rect x="0.5" y="16" width="11.0" height="16" rx="3" fill="#4a90d9" stroke="#0f2d48" stroke-width="2.4"/><rect x="-15.5" y="-21.5" width="31" height="43" rx="4.5" fill="#4a90d9" stroke="#0f2d48" stroke-width="2.4"/><circle cx="0" cy="-33.5" r="10.2" fill="#4a90d9" stroke="#0f2d48" stroke-width="2.4"/><text x="0" y="9.5" font-size="26" fill="#ffffff" text-anchor="middle" font-family="Liberation Sans, sans-serif">C</text></g>
<line x1="1512.0" y1="455.6" x2="1528.1" y2="452.5" stroke="#0f2d48" stroke-width="8" stroke-linecap="round"/><line x1="1512.0" y1="455.6" x2="1528.1" y2="452.5" stroke="#ee0000" stroke-width="3.6" stroke-linecap="round"/>
<line x1="1512.0" y1="465.4" x2="1528.7" y2="467.9" stroke="#0f2d48" stroke-width="8" stroke-linecap="round"/><line x1="1512.0" y1="465.4" x2="1528.7" y2="467.9" stroke="#ee0000" stroke-width="3.6" stroke-linecap="round"/>
<g transform="translate(1491.6 462.5) rotate(-92)"><rect x="-15.5" y="-21.5" width="31" height="43" rx="4.5" fill="#ee0000" stroke="#0f2d48" stroke-width="2.4"/><circle cx="0" cy="-33.5" r="10.2" fill="#ee0000" stroke="#0f2d48" stroke-width="2.4"/><text x="0" y="9.5" font-size="26" fill="#ffffff" text-anchor="middle" font-family="Liberation Sans, sans-serif">O</text></g>
<line x1="1327.9" y1="444.9" x2="1347.7" y2="436.8" stroke="#0f2d48" stroke-width="8.4" stroke-linecap="round"/><line x1="1327.9" y1="444.9" x2="1347.7" y2="436.8" stroke="#4a90d9" stroke-width="3.8" stroke-linecap="round"/>
<line x1="1347.7" y1="436.8" x2="1380.2" y2="423.3" stroke="#0f2d48" stroke-width="8.4" stroke-linecap="round"/><line x1="1347.7" y1="436.8" x2="1380.2" y2="423.3" stroke="#4a90d9" stroke-width="3.8" stroke-linecap="round"/>
<line x1="1313.7" y1="457.6" x2="1341.5" y2="482.4" stroke="#0f2d48" stroke-width="8.4" stroke-linecap="round"/><line x1="1313.7" y1="457.6" x2="1341.5" y2="482.4" stroke="#4a90d9" stroke-width="3.8" stroke-linecap="round"/>
<line x1="1341.5" y1="482.4" x2="1369.4" y2="508.9" stroke="#0f2d48" stroke-width="8.4" stroke-linecap="round"/><line x1="1341.5" y1="482.4" x2="1369.4" y2="508.9" stroke="#4a90d9" stroke-width="3.8" stroke-linecap="round"/>
<line x1="1407.2" y1="421.5" x2="1442.4" y2="435.0" stroke="#0f2d48" stroke-width="8.4" stroke-linecap="round"/><line x1="1407.2" y1="421.5" x2="1442.4" y2="435.0" stroke="#4a90d9" stroke-width="3.8" stroke-linecap="round"/>
<line x1="1446.9" y1="439.5" x2="1468.6" y2="449.4" stroke="#0f2d48" stroke-width="8.4" stroke-linecap="round"/><line x1="1446.9" y1="439.5" x2="1468.6" y2="449.4" stroke="#ee0000" stroke-width="3.8" stroke-linecap="round"/>
<line x1="1398.2" y1="508.1" x2="1432.5" y2="494.5" stroke="#0f2d48" stroke-width="8.4" stroke-linecap="round"/><line x1="1398.2" y1="508.1" x2="1432.5" y2="494.5" stroke="#4a90d9" stroke-width="3.8" stroke-linecap="round"/>
<line x1="1438.8" y1="490.9" x2="1470.4" y2="477.4" stroke="#0f2d48" stroke-width="8.4" stroke-linecap="round"/><line x1="1438.8" y1="490.9" x2="1470.4" y2="477.4" stroke="#ee0000" stroke-width="3.8" stroke-linecap="round"/>
<path d="M1531.7 437.7 Q1540 446 1540.7 455.8" fill="none" stroke="#8a8a8a" stroke-width="2"/>
<path d="M1536.2 426 Q1556 442 1552.4 460.3" fill="none" stroke="#8a8a8a" stroke-width="2"/>
<line x1="1848.0" y1="421.5" x2="1893.4" y2="433.0" stroke="#505050" stroke-width="2"/>
<line x1="1848.0" y1="430.0" x2="1890.0" y2="439.0" stroke="#505050" stroke-width="2"/>
<line x1="1894.4" y1="433.0" x2="1957.0" y2="406.0" stroke="#505050" stroke-width="2"/>
<line x1="1892.0" y1="434.0" x2="1897.5" y2="471.0" stroke="#505050" stroke-width="3"/>
<line x1="1878.5" y1="492.7" x2="1834.3" y2="512.3" stroke="#505050" stroke-width="2"/>
<text x="1834.0" y="431.6" font-size="25" fill="#111" text-anchor="middle" font-family="Liberation Sans, sans-serif">O</text>
<text x="1975.7" y="409.0" font-size="20" fill="#7a7a7a" text-anchor="middle" font-family="Liberation Sans, sans-serif">NH</text>
<text x="1897.2" y="498.4" font-size="28" fill="#111" text-anchor="middle" font-family="Liberation Sans, sans-serif">N</text>
<line x1="1992.3" y1="407.9" x2="2031.0" y2="412.4" stroke="#505050" stroke-width="2"/>
<line x1="1921.0" y1="485.5" x2="1977.0" y2="490.9" stroke="#505050" stroke-width="2"/>
<line x1="1990.5" y1="492.7" x2="2058.1" y2="463.8" stroke="#505050" stroke-width="2"/>
<line x1="1993.2" y1="480.0" x2="2038.3" y2="460.2" stroke="#505050" stroke-width="2"/>
<line x1="2058.1" y1="463.8" x2="2078.0" y2="471.9" stroke="#505050" stroke-width="2"/>
<line x1="2058.1" y1="463.8" x2="2058.1" y2="453.0" stroke="#505050" stroke-width="3"/>
<line x1="2069.0" y1="404.3" x2="2090.6" y2="396.2" stroke="#8a8a8a" stroke-width="2"/>
<line x1="2072.6" y1="410.6" x2="2094.2" y2="401.6" stroke="#8a8a8a" stroke-width="2"/>
<text x="2104.0" y="402.5" font-size="20" fill="#8a8a8a" text-anchor="middle" font-family="Liberation Sans, sans-serif">O</text>
<line x1="2016.7" y1="641.2" x2="1927.0" y2="659.7" stroke="#505050" stroke-width="2"/>
<line x1="2016.7" y1="642.2" x2="2023.9" y2="614.4" stroke="#505050" stroke-width="3"/>
<line x1="2016.7" y1="642.2" x2="2104.3" y2="664.9" stroke="#505050" stroke-width="2"/>
<line x1="2027.0" y1="637.0" x2="2098.1" y2="655.6" stroke="#505050" stroke-width="2"/>
<line x1="2104.3" y1="664.9" x2="2170.3" y2="650.5" stroke="#505050" stroke-width="2"/>
<text x="2184.7" y="652.3" font-size="28" fill="#111" text-anchor="middle" font-family="Liberation Sans, sans-serif">N</text>
<line x1="2197.1" y1="653.6" x2="2221.9" y2="677.3" stroke="#505050" stroke-width="2"/>
<line x1="2194.0" y1="622.6" x2="2200.0" y2="603.5" stroke="#505050" stroke-width="3"/>
<line x1="2194.0" y1="599.8" x2="2248.8" y2="588.2" stroke="#505050" stroke-width="2"/>
<line x1="2201.1" y1="606.3" x2="2248.8" y2="597.3" stroke="#505050" stroke-width="2"/>
<text x="2263.1" y="601.0" font-size="29" fill="#111" text-anchor="middle" font-family="Liberation Sans, sans-serif">O</text>
<line x1="2053.5" y1="591.2" x2="2088.3" y2="584.3" stroke="#505050" stroke-width="2"/>
<line x1="2140.5" y1="587.7" x2="2196.1" y2="601.7" stroke="#505050" stroke-width="2"/>
<text x="2114.4" y="597.4" font-size="27" fill="#111" text-anchor="middle" font-family="Liberation Sans, sans-serif">NH</text>
<line x1="1985.0" y1="576.0" x2="2012.0" y2="597.0" stroke="#505050" stroke-width="2"/>
<line x1="1996.0" y1="574.0" x2="2012.0" y2="587.0" stroke="#505050" stroke-width="2"/>
<g transform="translate(2047.3 426.9) rotate(0)"><rect x="-7.8" y="16" width="7.2" height="16" rx="3" fill="#4a90d9" stroke="#0f2d48" stroke-width="2.4"/><rect x="0.5" y="16" width="7.2" height="16" rx="3" fill="#4a90d9" stroke="#0f2d48" stroke-width="2.4"/><rect x="-11.8" y="-21.5" width="23.5" height="43" rx="4.5" fill="#4a90d9" stroke="#0f2d48" stroke-width="2.4"/><circle cx="0" cy="-33.5" r="10.2" fill="#4a90d9" stroke="#0f2d48" stroke-width="2.4"/><text x="0" y="9.5" font-size="26" fill="#ffffff" text-anchor="middle" font-family="Liberation Sans, sans-serif">C</text></g>
<g transform="translate(1979.2 458.4) rotate(0)"><rect x="-7.5" y="16" width="7.0" height="16" rx="3" fill="#4a90d9" stroke="#0f2d48" stroke-width="2.4"/><rect x="0.5" y="16" width="7.0" height="16" rx="3" fill="#4a90d9" stroke="#0f2d48" stroke-width="2.4"/><rect x="-11.5" y="-21.5" width="23" height="43" rx="4.5" fill="#4a90d9" stroke="#0f2d48" stroke-width="2.4"/><circle cx="0" cy="-33.5" r="10.2" fill="#4a90d9" stroke="#0f2d48" stroke-width="2.4"/><text x="0" y="9.5" font-size="26" fill="#ffffff" text-anchor="middle" font-family="Liberation Sans, sans-serif">C</text></g>
<line x1="1978.8" y1="445.8" x2="2018.5" y2="436.8" stroke="#0f2d48" stroke-width="8.4" stroke-linecap="round"/><line x1="1978.8" y1="445.8" x2="2018.5" y2="436.8" stroke="#4a90d9" stroke-width="3.8" stroke-linecap="round"/>
<line x1="2020.3" y1="436.8" x2="2051.0" y2="413.3" stroke="#0f2d48" stroke-width="8.4" stroke-linecap="round"/><line x1="2020.3" y1="436.8" x2="2051.0" y2="413.3" stroke="#4a90d9" stroke-width="3.8" stroke-linecap="round"/>
<g transform="translate(1995.8 542.0) rotate(0)"><rect x="-11.5" y="16" width="11.0" height="16" rx="3" fill="#ee0000" stroke="#0f2d48" stroke-width="2.4"/><rect x="0.5" y="16" width="11.0" height="16" rx="3" fill="#ee0000" stroke="#0f2d48" stroke-width="2.4"/><rect x="-15.5" y="-21.5" width="31" height="43" rx="4.5" fill="#ee0000" stroke="#0f2d48" stroke-width="2.4"/><circle cx="0" cy="-33.5" r="10.2" fill="#ee0000" stroke="#0f2d48" stroke-width="2.4"/><text x="0" y="9.5" font-size="26" fill="#ffffff" text-anchor="middle" font-family="Liberation Sans, sans-serif">O</text></g>
<g transform="translate(2027.9 589.2) rotate(0)"><rect x="-11.5" y="16" width="11.0" height="16" rx="3" fill="#4a90d9" stroke="#0f2d48" stroke-width="2.4"/><rect x="0.5" y="16" width="11.0" height="16" rx="3" fill="#4a90d9" stroke="#0f2d48" stroke-width="2.4"/><rect x="-15.5" y="-21.5" width="31" height="43" rx="4.5" fill="#4a90d9" stroke="#0f2d48" stroke-width="2.4"/><circle cx="0" cy="-33.5" r="10.2" fill="#4a90d9" stroke="#0f2d48" stroke-width="2.4"/><text x="0" y="9.5" font-size="26" fill="#ffffff" text-anchor="middle" font-family="Liberation Sans, sans-serif">C</text></g>
<line x1="2008.5" y1="524.0" x2="2010.0" y2="546.0" stroke="#0f2d48" stroke-width="8.4" stroke-linecap="round"/><line x1="2008.5" y1="524.0" x2="2010.0" y2="546.0" stroke="#ee0000" stroke-width="3.8" stroke-linecap="round"/>
<line x1="2007.8" y1="546.9" x2="2014.5" y2="567.0" stroke="#0f2d48" stroke-width="8.4" stroke-linecap="round"/><line x1="2007.8" y1="546.9" x2="2014.5" y2="567.0" stroke="#4a90d9" stroke-width="3.8" stroke-linecap="round"/>
<line x1="1984.8" y1="528.8" x2="2006.9" y2="544.2" stroke="#0f2d48" stroke-width="8.4" stroke-linecap="round"/><line x1="1984.8" y1="528.8" x2="2006.9" y2="544.2" stroke="#ee0000" stroke-width="3.8" stroke-linecap="round"/>
<line x1="765.0" y1="185.1" x2="794.7" y2="202.2" stroke="#1e1e1e" stroke-width="2.0"/>
<line x1="794.7" y1="202.2" x2="794.7" y2="236.5" stroke="#1e1e1e" stroke-width="2.0"/>
<line x1="794.7" y1="236.5" x2="774.1" y2="248.4" stroke="#1e1e1e" stroke-width="2.0"/>
<line x1="755.9" y1="248.4" x2="735.3" y2="236.5" stroke="#1e1e1e" stroke-width="2.0"/>
<line x1="735.3" y1="236.5" x2="735.3" y2="212.7" stroke="#1e1e1e" stroke-width="2.0"/>
<line x1="744.4" y1="196.9" x2="765.0" y2="185.1" stroke="#1e1e1e" stroke-width="2.0"/>
<line x1="765.0" y1="264.1" x2="765.0" y2="287.9" stroke="#1e1e1e" stroke-width="2.0"/>
<line x1="794.7" y1="202.2" x2="811.9" y2="172.5" stroke="#1e1e1e" stroke-width="2.0"/>
<line x1="794.7" y1="202.2" x2="820.0" y2="202.2" stroke="#1e1e1e" stroke-width="2.0"/>
<line x1="762.1" y1="185.1" x2="762.1" y2="161.2" stroke="#1e1e1e" stroke-width="2.0"/>
<line x1="767.9" y1="185.1" x2="767.9" y2="161.2" stroke="#1e1e1e" stroke-width="2.0"/>
<line x1="736.7" y1="239.0" x2="716.1" y2="250.9" stroke="#1e1e1e" stroke-width="2.0"/>
<line x1="733.8" y1="234.0" x2="713.2" y2="245.9" stroke="#1e1e1e" stroke-width="2.0"/>
<line x1="794.7" y1="236.5" x2="824.4" y2="253.7" stroke="#1e1e1e" stroke-width="2.0"/>
<line x1="824.4" y1="253.7" x2="845.0" y2="241.8" stroke="#1e1e1e" stroke-width="2.0"/>
<line x1="830.3" y1="256.6" x2="844.7" y2="248.3" stroke="#1e1e1e" stroke-width="2.0"/>
<line x1="863.2" y1="241.8" x2="883.8" y2="253.7" stroke="#1e1e1e" stroke-width="2.0"/>
<line x1="883.8" y1="253.7" x2="883.8" y2="277.4" stroke="#1e1e1e" stroke-width="2.0"/>
<line x1="874.7" y1="293.2" x2="854.1" y2="305.1" stroke="#1e1e1e" stroke-width="2.0"/>
<line x1="854.1" y1="305.1" x2="824.4" y2="287.9" stroke="#1e1e1e" stroke-width="2.0"/>
<line x1="852.4" y1="297.8" x2="831.6" y2="285.8" stroke="#1e1e1e" stroke-width="2.0"/>
<line x1="824.4" y1="287.9" x2="824.4" y2="253.7" stroke="#1e1e1e" stroke-width="2.0"/>
<line x1="882.4" y1="251.1" x2="903.0" y2="239.2" stroke="#1e1e1e" stroke-width="2.0"/>
<line x1="885.3" y1="256.2" x2="905.9" y2="244.3" stroke="#1e1e1e" stroke-width="2.0"/>
<line x1="892.9" y1="293.2" x2="913.5" y2="305.1" stroke="#1e1e1e" stroke-width="2.0"/>
<line x1="824.4" y1="287.9" x2="794.7" y2="305.1" stroke="#1e1e1e" stroke-width="2.0"/>
<text x="765.0" y="261.6" font-size="22" fill="#1e1e1e" text-anchor="middle" font-family="Liberation Sans, sans-serif">N</text>
<text x="743.3" y="210.1" font-size="22" fill="#1e1e1e" text-anchor="end" font-family="Liberation Sans, sans-serif">HN</text>
<text x="765.0" y="158.7" font-size="22" fill="#1e1e1e" text-anchor="middle" font-family="Liberation Sans, sans-serif">O</text>
<text x="705.6" y="261.6" font-size="22" fill="#1e1e1e" text-anchor="middle" font-family="Liberation Sans, sans-serif">O</text>
<text x="822.0" y="210.1" font-size="22" fill="#ff1a1a" text-anchor="start" font-family="Liberation Sans, sans-serif">O</text>
<text x="839.0" y="210.1" font-size="22" fill="#1e1e1e" text-anchor="start" font-family="Liberation Sans, sans-serif">H</text>
<text x="854.1" y="244.4" font-size="22" fill="#1e1e1e" text-anchor="middle" font-family="Liberation Sans, sans-serif">N</text>
<text x="883.8" y="295.9" font-size="22" fill="#1e1e1e" text-anchor="middle" font-family="Liberation Sans, sans-serif">N</text>
<text x="913.5" y="244.4" font-size="22" fill="#1e1e1e" text-anchor="middle" font-family="Liberation Sans, sans-serif">O</text>
<rect x="1442.9" y="209.5" width="34.3" height="34.3" fill="#fbf77e"/>
<line x1="1413.2" y1="192.4" x2="1442.9" y2="209.5" stroke="#1e1e1e" stroke-width="2.0"/>
<line x1="1442.9" y1="209.5" x2="1442.9" y2="243.8" stroke="#1e1e1e" stroke-width="2.0"/>
<line x1="1442.9" y1="243.8" x2="1422.3" y2="255.8" stroke="#1e1e1e" stroke-width="2.0"/>
<line x1="1404.1" y1="255.8" x2="1383.5" y2="243.8" stroke="#1e1e1e" stroke-width="2.0"/>
<line x1="1383.5" y1="243.8" x2="1383.5" y2="220.0" stroke="#1e1e1e" stroke-width="2.0"/>
<line x1="1392.6" y1="204.3" x2="1413.2" y2="192.4" stroke="#1e1e1e" stroke-width="2.0"/>
<line x1="1413.2" y1="271.5" x2="1413.2" y2="295.3" stroke="#1e1e1e" stroke-width="2.0"/>
<line x1="1442.9" y1="209.5" x2="1455.1" y2="176.4" stroke="#1e1e1e" stroke-width="2.0"/>
<line x1="1410.3" y1="192.4" x2="1410.3" y2="168.6" stroke="#1e1e1e" stroke-width="2.0"/>
<line x1="1416.1" y1="192.4" x2="1416.1" y2="168.6" stroke="#1e1e1e" stroke-width="2.0"/>
<line x1="1384.9" y1="246.4" x2="1364.3" y2="258.3" stroke="#1e1e1e" stroke-width="2.0"/>
<line x1="1382.0" y1="241.3" x2="1361.4" y2="253.2" stroke="#1e1e1e" stroke-width="2.0"/>
<line x1="1442.9" y1="209.5" x2="1466.7" y2="209.5" stroke="#1e1e1e" stroke-width="2.0"/>
<line x1="1477.2" y1="220.0" x2="1477.2" y2="243.8" stroke="#1e1e1e" stroke-width="2.0"/>
<line x1="1477.2" y1="243.8" x2="1442.9" y2="243.8" stroke="#1e1e1e" stroke-width="2.0"/>
<line x1="1477.2" y1="243.8" x2="1483.0" y2="276.9" stroke="#1e1e1e" stroke-width="2.0"/>
<line x1="1483.0" y1="276.9" x2="1518.5" y2="285.4" stroke="#1e1e1e" stroke-width="2.0"/>
<line x1="1489.6" y1="272.8" x2="1514.5" y2="278.8" stroke="#1e1e1e" stroke-width="2.0"/>
<line x1="1518.5" y1="285.4" x2="1533.1" y2="270.8" stroke="#1e1e1e" stroke-width="2.0"/>
<line x1="1550.8" y1="265.5" x2="1576.0" y2="270.8" stroke="#1e1e1e" stroke-width="2.0"/>
<line x1="1538.6" y1="253.1" x2="1533.2" y2="224.5" stroke="#1e1e1e" stroke-width="2.0"/>
<line x1="1531.3" y1="222.3" x2="1547.9" y2="208.1" stroke="#1e1e1e" stroke-width="2.0"/>
<line x1="1535.1" y1="226.7" x2="1551.6" y2="212.4" stroke="#1e1e1e" stroke-width="2.0"/>
<line x1="1483.0" y1="276.9" x2="1458.5" y2="301.4" stroke="#1e1e1e" stroke-width="2.0"/>
<text x="1413.2" y="268.9" font-size="22" fill="#1e1e1e" text-anchor="middle" font-family="Liberation Sans, sans-serif">N</text>
<text x="1391.5" y="217.5" font-size="22" fill="#1e1e1e" text-anchor="end" font-family="Liberation Sans, sans-serif">HN</text>
<text x="1413.2" y="166.0" font-size="22" fill="#1e1e1e" text-anchor="middle" font-family="Liberation Sans, sans-serif">O</text>
<text x="1353.8" y="268.9" font-size="22" fill="#1e1e1e" text-anchor="middle" font-family="Liberation Sans, sans-serif">O</text>
<text x="1477.2" y="217.5" font-size="22" fill="#ff1a1a" text-anchor="middle" font-family="Liberation Sans, sans-serif">O</text>
<text x="1490.5" y="228.5" font-size="22" fill="#1e1e1e" text-anchor="start" font-family="Liberation Sans, sans-serif">NH</text>
<text x="1540.5" y="271.3" font-size="22" fill="#1e1e1e" text-anchor="middle" font-family="Liberation Sans, sans-serif">N</text>
<text x="1557.7" y="211.3" font-size="22" fill="#1e1e1e" text-anchor="middle" font-family="Liberation Sans, sans-serif">O</text>
<line x1="1478.2" y1="241.8" x2="1488.2" y2="231.8" stroke="#1e1e1e" stroke-width="2"/>
<line x1="2054.7" y1="197.0" x2="2084.7" y2="214.3" stroke="#1e1e1e" stroke-width="2.0"/>
<line x1="2084.7" y1="214.3" x2="2084.7" y2="248.9" stroke="#1e1e1e" stroke-width="2.0"/>
<line x1="2079.2" y1="219.5" x2="2079.2" y2="243.7" stroke="#1e1e1e" stroke-width="2.0"/>
<line x1="2084.7" y1="248.9" x2="2063.8" y2="260.9" stroke="#1e1e1e" stroke-width="2.0"/>
<line x1="2045.6" y1="260.9" x2="2024.7" y2="248.9" stroke="#1e1e1e" stroke-width="2.0"/>
<line x1="2024.7" y1="248.9" x2="2024.7" y2="224.8" stroke="#1e1e1e" stroke-width="2.0"/>
<line x1="2033.8" y1="209.0" x2="2054.7" y2="197.0" stroke="#1e1e1e" stroke-width="2.0"/>
<line x1="2051.8" y1="197.0" x2="2051.8" y2="172.9" stroke="#1e1e1e" stroke-width="2.0"/>
<line x1="2057.6" y1="197.0" x2="2057.6" y2="172.9" stroke="#1e1e1e" stroke-width="2.0"/>
<line x1="2026.2" y1="251.4" x2="2005.3" y2="263.5" stroke="#1e1e1e" stroke-width="2.0"/>
<line x1="2023.3" y1="246.4" x2="2002.4" y2="258.4" stroke="#1e1e1e" stroke-width="2.0"/>
<line x1="2054.7" y1="276.7" x2="2054.7" y2="300.8" stroke="#1e1e1e" stroke-width="2.0"/>
<line x1="2084.7" y1="214.3" x2="2114.6" y2="197.0" stroke="#1e1e1e" stroke-width="2.0"/>
<line x1="2195.0" y1="195.8" x2="2225.0" y2="213.1" stroke="#1e1e1e" stroke-width="2.0"/>
<line x1="2225.0" y1="213.1" x2="2225.0" y2="247.7" stroke="#1e1e1e" stroke-width="2.0"/>
<line x1="2219.5" y1="218.3" x2="2219.5" y2="242.5" stroke="#1e1e1e" stroke-width="2.0"/>
<line x1="2225.0" y1="247.7" x2="2204.1" y2="259.8" stroke="#1e1e1e" stroke-width="2.0"/>
<line x1="2185.9" y1="259.8" x2="2165.0" y2="247.7" stroke="#1e1e1e" stroke-width="2.0"/>
<line x1="2165.0" y1="247.7" x2="2165.0" y2="223.6" stroke="#1e1e1e" stroke-width="2.0"/>
<line x1="2174.1" y1="207.8" x2="2195.0" y2="195.8" stroke="#1e1e1e" stroke-width="2.0"/>
<line x1="2192.1" y1="195.8" x2="2192.1" y2="171.7" stroke="#1e1e1e" stroke-width="2.0"/>
<line x1="2197.9" y1="195.8" x2="2197.9" y2="171.7" stroke="#1e1e1e" stroke-width="2.0"/>
<line x1="2166.5" y1="250.2" x2="2145.6" y2="262.3" stroke="#1e1e1e" stroke-width="2.0"/>
<line x1="2163.6" y1="245.2" x2="2142.7" y2="257.2" stroke="#1e1e1e" stroke-width="2.0"/>
<line x1="2195.0" y1="275.5" x2="2195.0" y2="299.6" stroke="#1e1e1e" stroke-width="2.0"/>
<line x1="2225.0" y1="213.1" x2="2254.9" y2="195.8" stroke="#1e1e1e" stroke-width="2.0"/>
<text x="2054.7" y="274.1" font-size="22" fill="#1e1e1e" text-anchor="middle" font-family="Liberation Sans, sans-serif">N</text>
<text x="2032.7" y="222.2" font-size="22" fill="#1e1e1e" text-anchor="end" font-family="Liberation Sans, sans-serif">HN</text>
<text x="2054.7" y="170.3" font-size="22" fill="#1e1e1e" text-anchor="middle" font-family="Liberation Sans, sans-serif">O</text>
<text x="1994.8" y="274.1" font-size="22" fill="#1e1e1e" text-anchor="middle" font-family="Liberation Sans, sans-serif">O</text>
<text x="2195.0" y="272.9" font-size="22" fill="#1e1e1e" text-anchor="middle" font-family="Liberation Sans, sans-serif">N</text>
<text x="2173.0" y="221.0" font-size="22" fill="#1e1e1e" text-anchor="end" font-family="Liberation Sans, sans-serif">HN</text>
<text x="2195.0" y="169.1" font-size="22" fill="#ff1a1a" text-anchor="middle" font-family="Liberation Sans, sans-serif">O</text>
<text x="2135.1" y="272.9" font-size="22" fill="#1e1e1e" text-anchor="middle" font-family="Liberation Sans, sans-serif">O</text>
</svg></body></html>
